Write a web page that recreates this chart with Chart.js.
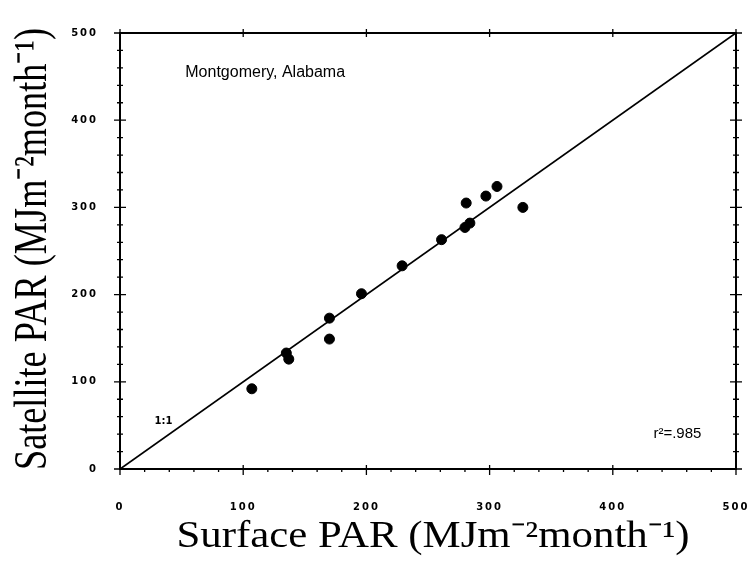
<!DOCTYPE html>
<html>
<head>
<meta charset="utf-8">
<script src="https://cdn.jsdelivr.net/npm/chart.js@4"></script>
<style>
  html, body { margin: 0; padding: 0; background: #fff; }
  #wrap { width: 749px; height: 572px; }
</style>
</head>
<body>
<div id="wrap"><canvas id="parchart"></canvas></div>
<script>
// surface vs satellite PAR, monthly (MJ m-2 month-1)
const surfacePAR   = [107, 135, 137, 170, 170, 196, 229, 261, 280, 284, 281, 297, 306, 327];
const satellitePAR = [ 92, 133, 126, 173, 149, 201, 233, 263, 277, 282, 305, 313, 324, 300];
const oneToOne = [0, 500];
const tickValues = [0, 100, 200, 300, 400, 500];
const stationName = 'Montgomery, Alabama';
const rSquared = 'r\u00B2=.985';
const xTitle = 'Surface PAR (MJm\u207B\u00B2month\u207B\u00B9)';
const yTitle = 'Satellite PAR (MJm\u207B\u00B2month\u207B\u00B9)';

const points = surfacePAR.map((x, i) => ({ x: x, y: satellitePAR[i] }));
const linePts = oneToOne.map(v => ({ x: v, y: v }));

// box, crossing ticks on every side, notes and the (stretched) axis titles
const framePlugin = {
    id: 'frame',
    beforeDraw(chart) {
        // spaced-out tick numbers like the scan
        chart.ctx.letterSpacing = '2px';
    },
    afterDraw(chart) {
        const ctx = chart.ctx;
        ctx.letterSpacing = '0px';
        const a = chart.chartArea;
        const xs = chart.scales.x, ys = chart.scales.y;
        ctx.save();
        ctx.strokeStyle = '#000';
        ctx.lineWidth = 2;
        ctx.strokeRect(a.left, a.top, a.right - a.left, a.bottom - a.top);
        ctx.lineWidth = 1.3;
        for (let v = 0; v <= 500; v += 20) {
            const major = v % 100 === 0;
            const o = major ? 6 : 3, i = major ? 6 : 3;
            const px = xs.getPixelForValue(v);
            const py = ys.getPixelForValue(v);
            ctx.beginPath();
            ctx.moveTo(px, a.bottom - i + 2); ctx.lineTo(px, a.bottom + o);
            ctx.moveTo(px, a.top - o + 2); ctx.lineTo(px, a.top + i - 2);
            ctx.moveTo(a.left - o, py); ctx.lineTo(a.left + i, py);
            ctx.moveTo(a.right - i, py); ctx.lineTo(a.right + o, py);
            ctx.stroke();
        }
        ctx.fillStyle = '#000';
        ctx.textBaseline = 'middle';
        ctx.font = '16px "Liberation Sans", Arial, sans-serif';
        ctx.fillText(stationName, xs.getPixelForValue(53), ys.getPixelForValue(455));
        ctx.font = 'bold 10px "DejaVu Sans", sans-serif';
        ctx.fillText('1:1', xs.getPixelForValue(28), ys.getPixelForValue(55));
        ctx.font = '15px "Liberation Sans", Arial, sans-serif';
        ctx.fillText(rSquared, xs.getPixelForValue(433), ys.getPixelForValue(40));

        // x title
        ctx.textBaseline = 'alphabetic';
        ctx.textAlign = 'center';
        ctx.font = '38px "Liberation Serif", serif';
        let w = ctx.measureText(xTitle).width;
        ctx.save();
        ctx.translate(433, 547);
        ctx.scale(513 / w, 1);
        ctx.fillText(xTitle, 0, 0);
        ctx.restore();

        // y title, rotated
        ctx.font = '37px "Liberation Serif", serif';
        w = ctx.measureText(yTitle).width;
        ctx.save();
        ctx.translate(46, 249);
        ctx.scale(1.25, 1);
        ctx.rotate(-Math.PI / 2);
        ctx.scale(442 / w, 1);
        ctx.fillText(yTitle, 0, 0);
        ctx.restore();
        ctx.restore();
    }
};

const ctx = document.getElementById('parchart');
new Chart(ctx, {
    type: 'scatter',
    data: {
        datasets: [
            {
                data: points,
                backgroundColor: '#000',
                borderColor: '#000',
                pointRadius: 5,
                pointHoverRadius: 5
            },
            {
                type: 'line',
                data: linePts,
                borderColor: '#000',
                borderWidth: 1.8,
                pointRadius: 0,
                fill: false
            }
        ]
    },
    options: {
        responsive: true,
        maintainAspectRatio: false,
        animation: false,
        layout: { padding: { left: 0, right: 13, top: 33, bottom: 0 } },
        plugins: { legend: { display: false }, tooltip: { enabled: false } },
        scales: {
            x: {
                type: 'linear',
                min: 0, max: 500,
                afterBuildTicks: s => { s.ticks = tickValues.map(v => ({ value: v })); },
                afterFit: s => { s.height = 103; s.paddingLeft = 0; s.paddingRight = 0; },
                grid: { display: false },
                border: { display: false },
                ticks: {
                    color: '#000',
                    padding: 24,
                    font: { family: '"DejaVu Sans", sans-serif', size: 10, weight: 'bold' }
                }
            },
            y: {
                type: 'linear',
                min: 0, max: 500,
                afterBuildTicks: s => { s.ticks = tickValues.map(v => ({ value: v })); },
                afterFit: s => { s.width = 120; s.paddingTop = 0; s.paddingBottom = 0; },
                grid: { display: false },
                border: { display: false },
                ticks: {
                    color: '#000',
                    padding: 14,
                    font: { family: '"DejaVu Sans", sans-serif', size: 10, weight: 'bold' }
                }
            }
        }
    },
    plugins: [framePlugin]
});
</script>
</body>
</html>
